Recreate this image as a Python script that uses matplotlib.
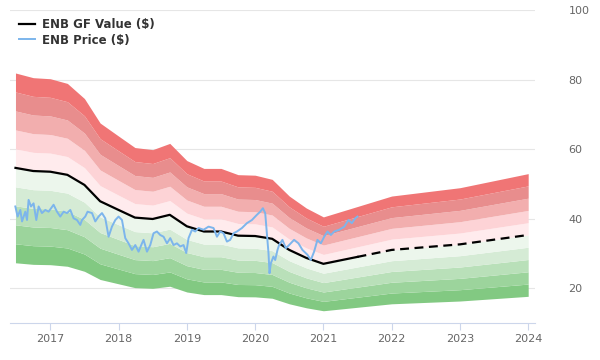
import numpy as np
import matplotlib
matplotlib.use("Agg")
import matplotlib.pyplot as plt

# GF value (quarterly-ish), solid up to last price date, dashed projection after
gf_t = [2016.49, 2016.75, 2017.0, 2017.25, 2017.5, 2017.73, 2018.0, 2018.24, 2018.5,
        2018.75, 2019.0, 2019.25, 2019.5, 2019.75, 2020.0, 2020.25, 2020.5, 2020.75,
        2021.0, 2021.5, 2022.0, 2023.0, 2024.0]
gf_v = [54.6, 53.7, 53.5, 52.6, 49.7, 45.0, 42.5, 40.3, 39.9,
        41.1, 37.8, 36.3, 36.3, 35.1, 35.0, 34.2, 31.0, 28.7,
        27.0, 29.0, 31.0, 32.6, 35.3]
gf_last_actual = 2021.5

price_t = [2016.488, 2016.521, 2016.561, 2016.586, 2016.634, 2016.659, 2016.682, 2016.717,
           2016.755, 2016.795, 2016.829, 2016.878, 2016.927, 2016.975, 2017.048, 2017.098,
           2017.146, 2017.195, 2017.245, 2017.293, 2017.341, 2017.391, 2017.439, 2017.464,
           2017.512, 2017.546, 2017.611, 2017.659, 2017.707, 2017.757, 2017.805, 2017.854,
           2017.903, 2017.952, 2018.000, 2018.050, 2018.098, 2018.146, 2018.196, 2018.245,
           2018.293, 2018.343, 2018.366, 2018.416, 2018.464, 2018.512, 2018.562, 2018.610,
           2018.659, 2018.709, 2018.757, 2018.805, 2018.855, 2018.903, 2018.952, 2018.991,
           2019.025, 2019.075, 2019.123, 2019.171, 2019.245, 2019.318, 2019.391, 2019.441,
           2019.489, 2019.537, 2019.587, 2019.635, 2019.684, 2019.734, 2019.807, 2019.880,
           2019.953, 2020.026, 2020.075, 2020.114, 2020.148, 2020.172, 2020.196, 2020.211,
           2020.231, 2020.269, 2020.294, 2020.328, 2020.351, 2020.400, 2020.450, 2020.498,
           2020.571, 2020.635, 2020.693, 2020.767, 2020.816, 2020.864, 2020.913, 2020.963,
           2021.012, 2021.060, 2021.110, 2021.158, 2021.232, 2021.306, 2021.367, 2021.417,
           2021.466, 2021.499]
price_v = [43.5, 40.6, 42.5, 39.2, 42.0, 39.6, 45.4, 43.5,
           44.4, 39.6, 43.5, 41.6, 42.5, 42.0, 44.0, 42.0,
           40.6, 42.0, 41.6, 42.5, 40.1, 39.6, 38.2, 39.6,
           40.6, 42.0, 41.6, 39.2, 40.6, 41.6, 40.1, 34.8,
           37.7, 39.6, 40.6, 39.6, 34.4, 32.9, 31.0, 32.4,
           30.5, 32.9, 33.9, 30.5, 32.4, 35.8, 36.3, 35.3,
           34.8, 32.9, 34.4, 32.4, 32.9, 32.0, 32.4, 30.1,
           34.4, 36.8, 36.3, 37.3, 36.8, 37.7, 37.3, 34.8,
           36.3, 35.8, 33.4, 33.9, 35.8, 36.3, 37.3, 38.7,
           39.6, 41.1, 42.0, 43.0, 41.6, 35.8, 30.1, 24.3,
           27.2, 29.1, 28.1, 31.0, 32.4, 33.9, 31.5, 32.4,
           33.9, 32.9, 31.0, 29.6, 28.1, 30.5, 33.9, 32.9,
           34.8, 36.3, 35.3, 36.3, 36.8, 37.7, 39.6, 38.7,
           40.1, 40.6]

band_factors = [0.5, 0.6, 0.7, 0.8, 0.9, 1.0, 1.1, 1.2, 1.3, 1.4, 1.5]
band_colors = ["#82c982", "#9cd49c", "#b9e0b9", "#d5ebd5", "#ecf6ec",
               "#ffebed", "#fdd3d6", "#f2aeae", "#e88d8d", "#f07575"]
years = [2017, 2018, 2019, 2020, 2021, 2022, 2023, 2024]

fig = plt.figure(figsize=(6, 3.6), dpi=100)
ax = fig.add_axes([0.0167, 0.103, 0.875, 0.869])

gt = np.array(gf_t)
gv = np.array(gf_v)
for i, c in enumerate(band_colors):
    ax.fill_between(gt, gv * band_factors[i], gv * band_factors[i + 1],
                    color=c, linewidth=0, zorder=1)

solid = gt <= gf_last_actual
ax.plot(gt[solid], gv[solid], color="black", lw=1.6, zorder=3,
        label="ENB GF Value ($)")
ax.plot(gt[gt >= gf_last_actual], gv[gt >= gf_last_actual], color="black",
        lw=1.6, ls=(0, (4, 2.5)), zorder=3)
ax.plot(price_t, price_v, color="#7cb5ec", lw=1.4, zorder=4,
        label="ENB Price ($)")

ax.set_xlim(2016.41, 2024.1)
ax.set_ylim(10, 100)
ax.set_yticks([20, 40, 60, 80, 100])
ax.yaxis.tick_right()
ax.tick_params(axis="y", length=0, pad=24, labelsize=8, labelcolor="#666666")
ax.grid(axis="y", color="#e6e6e6", lw=0.8, zorder=0)
ax.set_axisbelow(True)
ax.set_xticks(years)
ax.set_xticklabels([str(y) for y in years])
ax.tick_params(axis="x", length=5, color="#ccd6eb", labelsize=8,
               labelcolor="#666666", pad=3)
for s in ["top", "left", "right"]:
    ax.spines[s].set_visible(False)
ax.spines["bottom"].set_color("#ccd6eb")

leg = ax.legend(loc="upper left", bbox_to_anchor=(-0.004, 1.008), frameon=False,
                handlelength=1.4, handletextpad=0.6, labelspacing=0.2,
                prop={"weight": "bold", "size": 8.5})
for t in leg.get_texts():
    t.set_color("#333333")

fig.savefig("out.png", dpi=100)
